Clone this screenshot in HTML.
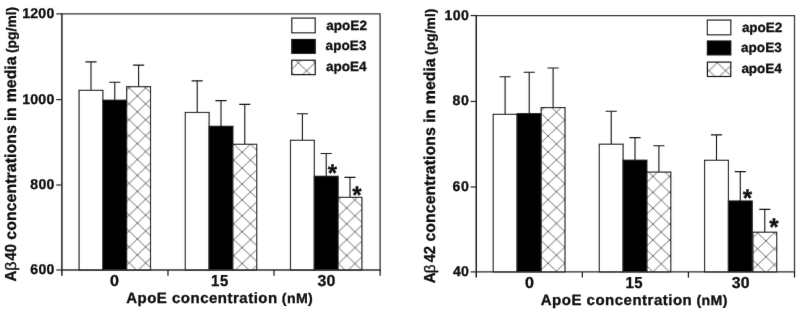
<!DOCTYPE html>
<html><head><meta charset="utf-8"><title>chart</title>
<style>
html,body{margin:0;padding:0;background:#fff;}
body{width:800px;height:311px;overflow:hidden;}
svg{display:block;font-family:"Liberation Sans",sans-serif;}
text{fill:#0c0c0c;white-space:pre;text-rendering:geometricPrecision;stroke:#0c0c0c;stroke-width:0.3px;}
</style></head><body>
<svg width="800" height="311" viewBox="0 0 800 311">
<defs>
<filter id="soft" x="0" y="0" width="100%" height="100%" filterUnits="userSpaceOnUse"><feConvolveMatrix order="3" kernelMatrix="0.00348 0.05206 0.00348 0.05206 0.77783 0.05206 0.00348 0.05206 0.00348" edgeMode="duplicate" preserveAlpha="false"/></filter>
<pattern id="hL0" patternUnits="userSpaceOnUse" x="137.40" y="111.80" width="16.6" height="15.9"><path d="M0 0L16.6 15.9M0 15.9L16.6 0" stroke="#404040" stroke-width="0.8" fill="none"/></pattern>
<pattern id="hL1" patternUnits="userSpaceOnUse" x="242.10" y="152.20" width="16.6" height="15.9"><path d="M0 0L16.6 15.9M0 15.9L16.6 0" stroke="#404040" stroke-width="0.8" fill="none"/></pattern>
<pattern id="hL2" patternUnits="userSpaceOnUse" x="346.70" y="207.90" width="16.6" height="15.9"><path d="M0 0L16.6 15.9M0 15.9L16.6 0" stroke="#404040" stroke-width="0.8" fill="none"/></pattern>
<pattern id="hR0" patternUnits="userSpaceOnUse" x="548.10" y="120.10" width="16.6" height="15.9"><path d="M0 0L16.6 15.9M0 15.9L16.6 0" stroke="#404040" stroke-width="0.8" fill="none"/></pattern>
<pattern id="hR1" patternUnits="userSpaceOnUse" x="652.90" y="176.40" width="16.6" height="15.9"><path d="M0 0L16.6 15.9M0 15.9L16.6 0" stroke="#404040" stroke-width="0.8" fill="none"/></pattern>
<pattern id="hR2" patternUnits="userSpaceOnUse" x="765.90" y="240.90" width="16.6" height="15.9"><path d="M0 0L16.6 15.9M0 15.9L16.6 0" stroke="#404040" stroke-width="0.8" fill="none"/></pattern>
<pattern id="hLs" patternUnits="userSpaceOnUse" x="298.30" y="62.80" width="16.6" height="15.9"><path d="M0 0L16.6 15.9M0 15.9L16.6 0" stroke="#404040" stroke-width="0.8" fill="none"/></pattern>
<pattern id="hRs" patternUnits="userSpaceOnUse" x="717.30" y="62.70" width="16.6" height="15.9"><path d="M0 0L16.6 15.9M0 15.9L16.6 0" stroke="#404040" stroke-width="0.8" fill="none"/></pattern>
</defs>
<rect width="800" height="311" fill="#fff"/>
<g filter="url(#soft)">
<g id="left">
<rect x="79.10" y="90.40" width="23.80" height="179.60" fill="#fff" stroke="#161616" stroke-width="1.15"/>
<path d="M91.00 90.40V61.90M85.45 61.90H96.55" stroke="#161616" stroke-width="1.1" fill="none"/>
<rect x="102.90" y="100.20" width="23.80" height="169.80" fill="#000" stroke="#161616" stroke-width="1.15"/>
<path d="M114.80 100.20V82.20M109.25 82.20H120.35" stroke="#161616" stroke-width="1.1" fill="none"/>
<rect x="126.70" y="86.70" width="23.80" height="183.30" fill="#fff"/>
<rect x="126.70" y="86.70" width="23.80" height="183.30" fill="url(#hL0)" stroke="#161616" stroke-width="1.15"/>
<path d="M138.60 86.70V65.10M133.05 65.10H144.15" stroke="#161616" stroke-width="1.1" fill="none"/>
<rect x="185.30" y="112.50" width="23.80" height="157.50" fill="#fff" stroke="#161616" stroke-width="1.15"/>
<path d="M197.20 112.50V80.90M191.65 80.90H202.75" stroke="#161616" stroke-width="1.1" fill="none"/>
<rect x="209.10" y="126.30" width="23.80" height="143.70" fill="#000" stroke="#161616" stroke-width="1.15"/>
<path d="M221.00 126.30V100.60M215.45 100.60H226.55" stroke="#161616" stroke-width="1.1" fill="none"/>
<rect x="232.90" y="144.30" width="23.80" height="125.70" fill="#fff"/>
<rect x="232.90" y="144.30" width="23.80" height="125.70" fill="url(#hL1)" stroke="#161616" stroke-width="1.15"/>
<path d="M244.80 144.30V104.40M239.25 104.40H250.35" stroke="#161616" stroke-width="1.1" fill="none"/>
<rect x="290.50" y="140.30" width="23.80" height="129.70" fill="#fff" stroke="#161616" stroke-width="1.15"/>
<path d="M302.40 140.30V113.80M296.85 113.80H307.95" stroke="#161616" stroke-width="1.1" fill="none"/>
<rect x="314.30" y="176.30" width="23.80" height="93.70" fill="#000" stroke="#161616" stroke-width="1.15"/>
<path d="M326.20 176.30V153.50M320.65 153.50H331.75" stroke="#161616" stroke-width="1.1" fill="none"/>
<rect x="338.10" y="197.40" width="23.80" height="72.60" fill="#fff"/>
<rect x="338.10" y="197.40" width="23.80" height="72.60" fill="url(#hL2)" stroke="#161616" stroke-width="1.15"/>
<path d="M350.00 197.40V177.40M344.45 177.40H355.55" stroke="#161616" stroke-width="1.1" fill="none"/>
<path d="M61.90 13.90H380.10V270.00" fill="none" stroke="#3a3a3a" stroke-width="1.3"/>
<path d="M61.90 270.00H380.75" fill="none" stroke="#2e2e2e" stroke-width="1.4"/>
<path d="M61.90 13.25V275.70" fill="none" stroke="#222" stroke-width="1.5"/>
<path d="M56.30 13.90H61.90" stroke="#2a2a2a" stroke-width="1.25"/>
<path d="M56.30 99.60H61.90" stroke="#2a2a2a" stroke-width="1.25"/>
<path d="M56.30 185.00H61.90" stroke="#2a2a2a" stroke-width="1.25"/>
<path d="M56.30 270.00H61.90" stroke="#2a2a2a" stroke-width="1.25"/>
<path d="M167.97 270.00V275.70" stroke="#161616" stroke-width="1.2"/>
<path d="M274.03 270.00V275.70" stroke="#161616" stroke-width="1.2"/>
<path d="M380.10 270.00V275.70" stroke="#161616" stroke-width="1.2"/>
<rect x="291.80" y="18.10" width="23.40" height="14.70" fill="#fff" stroke="#151515" stroke-width="1.2"/>
<rect x="291.80" y="39.50" width="23.40" height="13.80" fill="#000" stroke="#151515" stroke-width="1.2"/>
<rect x="291.80" y="60.20" width="23.40" height="14.40" fill="url(#hLs)" stroke="#151515" stroke-width="1.2"/>
</g>
<g id="right">
<rect x="493.20" y="114.40" width="23.80" height="157.50" fill="#fff" stroke="#161616" stroke-width="1.15"/>
<path d="M505.10 114.40V76.70M499.55 76.70H510.65" stroke="#161616" stroke-width="1.1" fill="none"/>
<rect x="517.30" y="113.70" width="23.80" height="158.20" fill="#000" stroke="#161616" stroke-width="1.15"/>
<path d="M529.20 113.70V72.20M523.65 72.20H534.75" stroke="#161616" stroke-width="1.1" fill="none"/>
<rect x="541.20" y="107.60" width="23.80" height="164.30" fill="#fff"/>
<rect x="541.20" y="107.60" width="23.80" height="164.30" fill="url(#hR0)" stroke="#161616" stroke-width="1.15"/>
<path d="M553.10 107.60V68.00M547.55 68.00H558.65" stroke="#161616" stroke-width="1.1" fill="none"/>
<rect x="599.30" y="144.20" width="23.80" height="127.70" fill="#fff" stroke="#161616" stroke-width="1.15"/>
<path d="M611.20 144.20V111.20M605.65 111.20H616.75" stroke="#161616" stroke-width="1.1" fill="none"/>
<rect x="623.10" y="160.20" width="23.80" height="111.70" fill="#000" stroke="#161616" stroke-width="1.15"/>
<path d="M635.00 160.20V137.60M629.45 137.60H640.55" stroke="#161616" stroke-width="1.1" fill="none"/>
<rect x="647.00" y="172.10" width="23.80" height="99.80" fill="#fff"/>
<rect x="647.00" y="172.10" width="23.80" height="99.80" fill="url(#hR1)" stroke="#161616" stroke-width="1.15"/>
<path d="M658.90 172.10V145.70M653.35 145.70H664.45" stroke="#161616" stroke-width="1.1" fill="none"/>
<rect x="704.60" y="160.30" width="23.80" height="111.60" fill="#fff" stroke="#161616" stroke-width="1.15"/>
<path d="M716.50 160.30V134.90M710.95 134.90H722.05" stroke="#161616" stroke-width="1.1" fill="none"/>
<rect x="728.40" y="201.00" width="23.80" height="70.90" fill="#000" stroke="#161616" stroke-width="1.15"/>
<path d="M740.30 201.00V171.60M734.75 171.60H745.85" stroke="#161616" stroke-width="1.1" fill="none"/>
<rect x="752.90" y="232.20" width="23.80" height="39.70" fill="#fff"/>
<rect x="752.90" y="232.20" width="23.80" height="39.70" fill="url(#hR2)" stroke="#161616" stroke-width="1.15"/>
<path d="M764.80 232.20V209.40M759.25 209.40H770.35" stroke="#161616" stroke-width="1.1" fill="none"/>
<path d="M476.25 15.55H794.50V271.90" fill="none" stroke="#3a3a3a" stroke-width="1.3"/>
<path d="M476.25 271.90H795.15" fill="none" stroke="#2e2e2e" stroke-width="1.4"/>
<path d="M476.25 14.90V277.60" fill="none" stroke="#222" stroke-width="1.5"/>
<path d="M470.65 15.55H476.25" stroke="#2a2a2a" stroke-width="1.25"/>
<path d="M470.65 101.45H476.25" stroke="#2a2a2a" stroke-width="1.25"/>
<path d="M470.65 186.95H476.25" stroke="#2a2a2a" stroke-width="1.25"/>
<path d="M470.65 271.90H476.25" stroke="#2a2a2a" stroke-width="1.25"/>
<path d="M582.33 271.90V277.60" stroke="#161616" stroke-width="1.2"/>
<path d="M688.42 271.90V277.60" stroke="#161616" stroke-width="1.2"/>
<path d="M794.50 271.90V277.60" stroke="#161616" stroke-width="1.2"/>
<rect x="707.40" y="20.10" width="23.40" height="14.70" fill="#fff" stroke="#151515" stroke-width="1.2"/>
<rect x="707.40" y="41.00" width="23.40" height="13.90" fill="#000" stroke="#151515" stroke-width="1.2"/>
<rect x="707.40" y="62.10" width="23.40" height="14.40" fill="url(#hRs)" stroke="#151515" stroke-width="1.2"/>
</g>
<g id="labels">
<text transform="translate(22.22 17.90)" style="font-size:14.1px;font-weight:bold;letter-spacing:0.229px">1200</text>
<text transform="translate(22.22 103.60)" style="font-size:14.1px;font-weight:bold;letter-spacing:0.229px">1000</text>
<text transform="translate(30.36 189.00)" style="font-size:14.1px;font-weight:bold;letter-spacing:0.193px">800</text>
<text transform="translate(30.36 274.00)" style="font-size:14.1px;font-weight:bold;letter-spacing:0.193px">600</text>
<text transform="translate(444.42 19.55)" style="font-size:14.1px;font-weight:bold;letter-spacing:0.414px">100</text>
<text transform="translate(452.56 105.45)" style="font-size:14.1px;font-weight:bold;letter-spacing:0.529px">80</text>
<text transform="translate(452.56 190.95)" style="font-size:14.1px;font-weight:bold;letter-spacing:0.529px">60</text>
<text transform="translate(453.00 275.90)" style="font-size:14.1px;font-weight:bold;letter-spacing:0.088px">40</text>
<text transform="translate(110.10 286.20) scale(1.0128 1)" style="font-size:15.9px;font-weight:bold;letter-spacing:0.000px">0</text>
<text transform="translate(211.07 286.20) scale(0.9400 1)" style="font-size:15.9px;font-weight:bold;letter-spacing:0.619px">15</text>
<text transform="translate(317.45 286.20)" style="font-size:15.9px;font-weight:bold;letter-spacing:0.107px">30</text>
<text transform="translate(524.90 287.70) scale(1.0128 1)" style="font-size:15.9px;font-weight:bold;letter-spacing:0.000px">0</text>
<text transform="translate(625.47 287.70) scale(0.9400 1)" style="font-size:15.9px;font-weight:bold;letter-spacing:0.513px">15</text>
<text transform="translate(731.75 287.70)" style="font-size:15.9px;font-weight:bold;letter-spacing:0.107px">30</text>
<text transform="translate(126.17 303.00)" style="font-size:15.0px;font-weight:bold;letter-spacing:0.497px">ApoE concentration</text>
<text transform="translate(281.84 303.10) scale(1.0200 1)" style="font-size:13.9px;font-weight:bold;letter-spacing:0.347px">(nM)</text>
<text transform="translate(540.77 304.80)" style="font-size:15.0px;font-weight:bold;letter-spacing:0.497px">ApoE concentration</text>
<text transform="translate(696.44 304.90) scale(1.0200 1)" style="font-size:13.9px;font-weight:bold;letter-spacing:0.347px">(nM)</text>
<text transform="translate(16.10 281.53) rotate(-90) scale(0.9423 1)" style="font-size:15.9px;font-weight:bold;letter-spacing:0.000px">A</text>
<text transform="translate(16.10 270.71) rotate(-90) scale(1.0594 1)" style="font-size:15.2px;font-weight:normal;letter-spacing:0.000px">β</text>
<text transform="translate(16.10 260.40) rotate(-90) scale(0.9300 1)" style="font-size:15.9px;font-weight:bold;letter-spacing:0.056px">40</text>
<text transform="translate(16.10 239.70) rotate(-90)" style="font-size:15.9px;font-weight:bold;letter-spacing:0.044px">concentrations</text>
<text transform="translate(16.10 120.89) rotate(-90)" style="font-size:15.9px;font-weight:bold;letter-spacing:-0.468px">in</text>
<text transform="translate(16.10 102.29) rotate(-90)" style="font-size:15.9px;font-weight:bold;letter-spacing:-0.015px">media</text>
<text transform="translate(15.60 53.05) rotate(-90)" style="font-size:13.8px;font-weight:bold;letter-spacing:0.043px">(pg/ml)</text>
<text transform="translate(435.40 283.33) rotate(-90) scale(0.9423 1)" style="font-size:15.9px;font-weight:bold;letter-spacing:0.000px">A</text>
<text transform="translate(435.40 273.25) rotate(-90) scale(1.0051 1)" style="font-size:15.2px;font-weight:normal;letter-spacing:0.000px">β</text>
<text transform="translate(435.40 262.30) rotate(-90) scale(0.9300 1)" style="font-size:15.9px;font-weight:bold;letter-spacing:-0.193px">42</text>
<text transform="translate(435.40 241.60) rotate(-90)" style="font-size:15.9px;font-weight:bold;letter-spacing:0.044px">concentrations</text>
<text transform="translate(435.40 122.79) rotate(-90)" style="font-size:15.9px;font-weight:bold;letter-spacing:-0.468px">in</text>
<text transform="translate(435.40 104.19) rotate(-90)" style="font-size:15.9px;font-weight:bold;letter-spacing:-0.015px">media</text>
<text transform="translate(434.70 54.95) rotate(-90)" style="font-size:13.8px;font-weight:bold;letter-spacing:0.059px">(pg/ml)</text>
<text transform="translate(326.19 29.90)" style="font-size:13.5px;font-weight:bold;letter-spacing:0.058px">apoE2</text>
<text transform="translate(325.59 50.00)" style="font-size:13.5px;font-weight:bold;letter-spacing:0.083px">apoE3</text>
<text transform="translate(325.99 71.20)" style="font-size:13.5px;font-weight:bold;letter-spacing:-0.022px">apoE4</text>
<text transform="translate(741.89 31.90)" style="font-size:13.5px;font-weight:bold;letter-spacing:-0.067px">apoE2</text>
<text transform="translate(740.99 51.80)" style="font-size:13.5px;font-weight:bold;letter-spacing:0.058px">apoE3</text>
<text transform="translate(741.39 73.00)" style="font-size:13.5px;font-weight:bold;letter-spacing:-0.047px">apoE4</text>
<text x="327.81" y="181.09" style="font-size:24.0px;font-weight:bold">*</text>
<text x="352.21" y="202.89" style="font-size:24.0px;font-weight:bold">*</text>
<text x="742.71" y="206.19" style="font-size:24.0px;font-weight:bold">*</text>
<text x="769.31" y="235.49" style="font-size:24.0px;font-weight:bold">*</text>
</g>
</g>
</svg>
</body></html>
